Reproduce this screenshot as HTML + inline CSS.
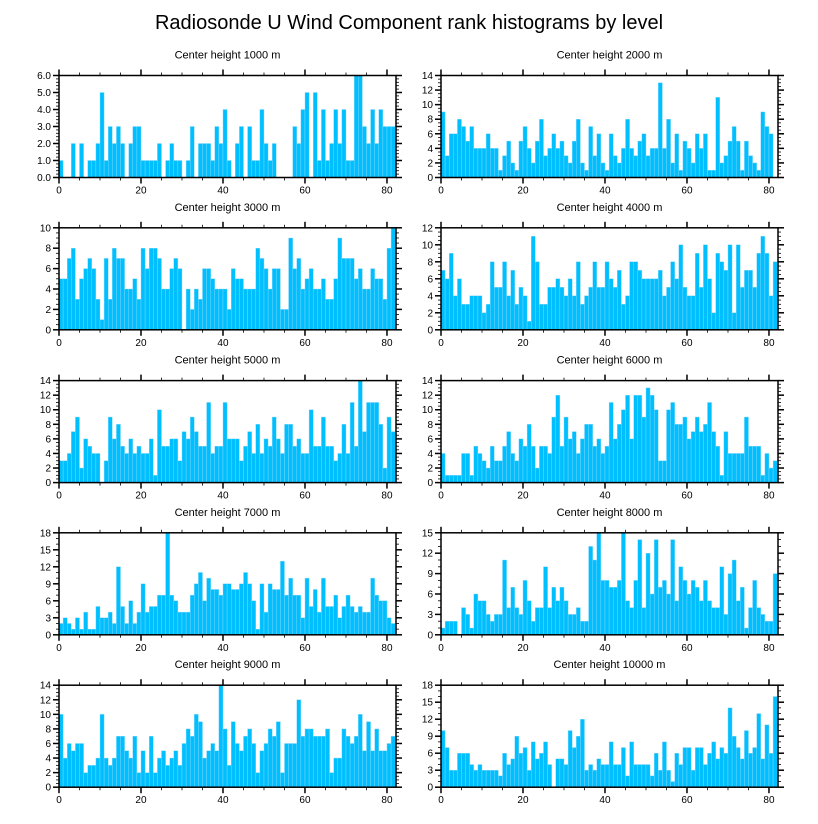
<!DOCTYPE html>
<html><head><meta charset="utf-8"><style>
html,body{margin:0;padding:0;background:#fff;}
svg{display:block;font-family:"Liberation Sans",sans-serif;}
</style></head><body>
<svg id="chart" width="818" height="824" viewBox="0 0 818 824" xmlns="http://www.w3.org/2000/svg">
<text x="409" y="29" text-anchor="middle" font-size="20">Radiosonde U Wind Component rank histograms by level</text>
</svg>
<script>
const titles = ["Center height 1000 m","Center height 2000 m","Center height 3000 m","Center height 4000 m","Center height 5000 m","Center height 6000 m","Center height 7000 m","Center height 8000 m","Center height 9000 m","Center height 10000 m"];
const yMaxes = [6,14,10,12,14,14,18,15,14,18];
const yTickSteps = [1,2,2,2,2,2,3,3,2,3];
const xTicks = [0,20,40,60,80];
const h1000 = [1,0,0,2,0,2,0,1,1,2,5,1,3,2,3,2,0,2,3,3,1,1,1,1,2,0,1,2,1,1,0,1,3,0,2,2,2,1,3,2,4,1,0,2,3,0,3,1,1,4,2,1,2,0,0,0,0,3,2,4,5,0,5,1,4,1,2,4,2,4,1,1,6,6,3,2,4,2,4,3,3,3];
const h2000 = [9,3,6,6,8,7,5,7,4,4,4,6,4,4,1,3,5,2,1,5,7,4,2,5,8,3,4,6,4,5,3,2,5,8,2,1,7,3,6,2,1,6,3,2,4,8,4,3,5,6,3,4,4,13,4,8,2,6,1,5,4,2,6,4,6,1,1,11,2,3,5,7,5,1,5,3,2,1,9,7,6];
const h3000 = [5,5,7,8,3,5,6,7,6,3,1,7,3,8,7,7,4,4,5,3,8,6,8,8,7,4,4,6,7,6,0,4,2,4,3,6,6,5,4,4,4,2,6,5,5,4,4,4,8,7,6,4,6,6,2,2,9,6,7,4,5,6,4,4,5,3,3,5,9,7,7,7,5,6,4,4,6,5,5,3,8,10];
const h4000 = [7,6,9,4,6,3,3,4,4,4,2,3,8,5,5,8,4,7,3,5,4,1,11,8,3,3,5,5,6,5,4,6,4,8,3,4,5,8,5,5,8,6,5,7,3,4,8,8,7,6,6,6,6,7,4,5,8,6,10,5,4,4,9,5,10,6,2,9,8,7,10,2,10,5,7,7,5,9,11,9,4,8];
const h5000 = [3,3,4,7,9,2,6,5,4,4,0,3,9,6,8,5,4,6,4,5,4,4,6,1,10,5,5,6,6,3,7,6,9,7,5,5,11,4,5,5,11,6,6,6,3,5,7,4,8,4,6,5,9,6,4,8,8,5,6,4,4,10,5,5,9,5,5,3,4,8,4,11,5,14,7,11,11,11,8,2,9,7];
const h6000 = [4,1,1,1,1,4,4,1,5,4,3,2,5,3,3,5,7,4,3,6,5,8,5,2,5,5,4,9,12,5,9,6,7,4,6,8,8,5,6,4,5,11,6,8,10,12,6,12,12,9,13,12,10,3,3,10,11,8,8,9,6,7,9,7,8,11,7,5,1,7,4,4,4,4,9,5,5,5,1,4,2,3];
const h7000 = [2,3,2,1,3,1,4,1,1,5,3,3,4,2,12,5,2,6,2,4,9,4,5,5,7,7,18,7,6,4,4,4,7,9,11,6,10,8,8,7,9,9,8,8,9,11,9,6,1,9,4,9,8,8,13,7,10,7,7,3,10,5,8,4,10,5,5,7,3,5,7,5,4,5,4,4,10,7,6,6,3,2];
const h8000 = [1,2,2,2,0,4,3,1,6,5,5,3,2,3,3,11,4,7,4,3,8,5,2,4,4,10,4,7,5,7,5,3,3,4,2,2,13,11,15,8,8,7,7,8,15,5,4,8,14,4,12,6,14,7,8,6,14,5,10,8,6,8,7,5,8,5,4,4,10,3,9,11,5,7,1,4,8,4,3,2,2,9];
const h9000 = [10,4,6,5,6,6,2,3,3,4,10,4,3,4,7,7,5,4,7,2,5,2,7,2,4,5,3,4,5,3,6,8,7,10,9,4,5,6,5,14,8,3,9,6,5,7,8,6,2,5,6,8,7,9,2,6,6,6,12,7,8,8,7,7,7,8,2,4,4,8,7,6,7,10,5,9,5,8,5,5,6,7];
const h10000 = [10,7,3,3,6,6,6,4,3,4,3,3,3,3,2,6,4,5,9,6,7,3,8,5,6,8,4,0,5,5,4,10,7,9,12,3,4,3,5,4,4,8,4,4,7,2,8,4,4,4,4,2,6,3,8,3,1,6,4,7,7,3,7,7,4,6,8,5,7,6,14,9,7,5,10,6,7,13,5,11,6,16];
const series = [h1000,h2000,h3000,h4000,h5000,h6000,h7000,h8000,h9000,h10000];

const NS="http://www.w3.org/2000/svg";
const svg=document.getElementById('chart');
function mk(tag,attrs,parent){const e=document.createElementNS(NS,tag);for(const k in attrs)e.setAttribute(k,attrs[k]);(parent||svg).appendChild(e);return e;}
const XMAX=82.2;
const colX=[59,441], W=337, H=102, rowTop=[75.5,227.8,380.6,532.8,685.2];
series.forEach((vals,p)=>{
  const x0=colX[p%2], y0=rowTop[Math.floor(p/2)], ymax=yMaxes[p], st=yTickSteps[p];
  const g=mk('g',{});
  
  
  const xs=v=>x0+v/XMAX*W, ys=v=>y0+H-v/ymax*H;
  const t=mk('text',{x:x0+W/2,y:y0-17,'text-anchor':'middle','font-size':'11'},g);
  t.textContent=titles[p];
  
  
  vals.forEach((v,i)=>{
    if(v<=0)return;
    const r=mk('rect',{x:xs(i),y:ys(v),width:xs(i+1)-xs(i),height:ys(0)-ys(v),fill:'#00bfff',stroke:'#8ad9ff','stroke-width':'0.4'},g);
    
    
  });
  // minor x ticks
  for(let v=0;v<=XMAX;v+=5){
    const maj=v%20===0, L=maj?6:3;
    mk('line',{x1:xs(v),x2:xs(v),y1:y0+H,y2:y0+H+L,stroke:'#000','stroke-width':maj?1.5:0.8},g);
    mk('line',{x1:xs(v),x2:xs(v),y1:y0,y2:y0-L,stroke:'#000','stroke-width':maj?1.5:0.8},g);
  }
  xTicks.forEach(v=>{
    const l=mk('text',{x:xs(v),y:y0+H+16,'text-anchor':'middle','font-size':'10'},g);
    l.textContent=v;
    
    
  });
  const minor=st/ (st===3?3:(st===1?5:4));
  for(let v=0;v<=ymax+1e-6;v+=minor){
    const maj=Math.abs(v/st-Math.round(v/st))<1e-6, L=maj?6:3;
    mk('line',{x1:x0,x2:x0-L,y1:ys(v),y2:ys(v),stroke:'#000','stroke-width':maj?1.5:0.8},g);
    mk('line',{x1:x0+W,x2:x0+W+L,y1:ys(v),y2:ys(v),stroke:'#000','stroke-width':maj?1.5:0.8},g);
  }
  for(let v=0;v<=ymax+1e-6;v+=st){
    const l=mk('text',{x:x0-8,y:ys(v)+3.5,'text-anchor':'end','font-size':'10'},g);
    l.textContent=p===0?v.toFixed(1):v;
    
    
  }
  const b=mk('rect',{x:x0,y:y0,width:W,height:H,fill:'none',stroke:'#000','stroke-width':'1.5'},g);
  
  
});
</script>
</body></html>
